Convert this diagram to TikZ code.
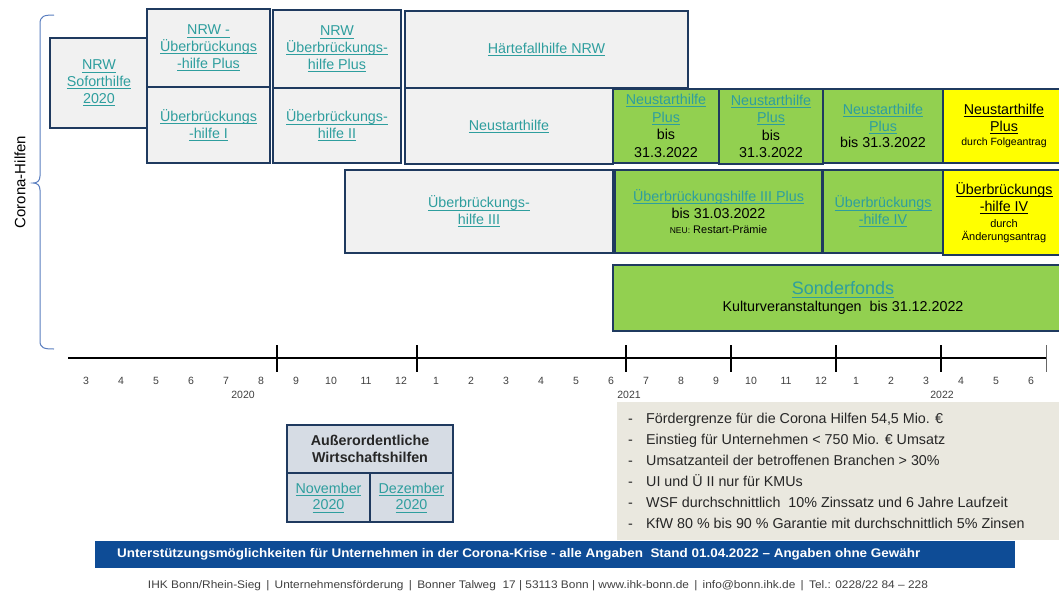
\documentclass[tikz,border=0pt]{standalone}
\usepackage{fontspec}
\setmainfont{Liberation Sans}
\definecolor{navy}{HTML}{1F3A5F}
\definecolor{boxgrey}{HTML}{F1F1F1}
\definecolor{boxgreen}{HTML}{92D050}
\definecolor{boxyellow}{HTML}{FFFF00}
\definecolor{linkc}{HTML}{2E9E9E}
\definecolor{awfill}{HTML}{D6DCE4}
\definecolor{notefill}{HTML}{EAE8DF}
\definecolor{barblue}{HTML}{0E4C96}
\definecolor{bracec}{HTML}{5A7EC0}
\definecolor{txtgrey}{HTML}{404040}
\newsavebox\myulbox
\newcommand\myul[1]{\sbox\myulbox{#1}\rlap{\rule[-0.16em]{\wd\myulbox}{0.05em}}\usebox\myulbox}
\newcommand\lnk[1]{\textcolor{linkc}{\myul{#1}}}
\newcommand\ulb[1]{\myul{#1}}
\newcommand\fs[2]{\fontsize{#1}{#2}\selectfont}
\begin{document}
\begin{tikzpicture}[x=1pt,y=-1pt,
  box/.style={draw=navy, line width=1.6pt, fill=boxgrey, align=center, inner sep=0pt, font=\fs{14.3}{16.8}},
  gbox/.style={box, fill=boxgreen},
  ybox/.style={box, fill=boxyellow},
  awbox/.style={box, fill=awfill},
  month/.style={font=\fs{10.5}{12}, text=txtgrey, inner sep=0pt},
  tick/.style={line width=1.8pt, black},
  bullet/.style={anchor=base west, font=\fs{14.3}{16}, text=black!85, inner sep=0pt}]
\useasboundingbox (0,0) rectangle (1059,592);
\fill[white] (0,0) rectangle (1059,592);
\clip (0,0) rectangle (1059,592);

% left brace and label
\draw[bracec, line width=1pt] (54,15) .. controls (44,15) and (40,16) .. (40,24)
  -- (40,176) .. controls (40,181) and (37,183) .. (33,183)
  .. controls (37,183) and (40,185) .. (40,190)
  -- (40,341) .. controls (40,348) and (44,349) .. (54,349);
\node[rotate=90, font=\fs{15}{16}, inner sep=0pt] (corona) at (20,182) {Corona-Hilfen};

% row 1
\node[box, minimum width=98pt, minimum height=90pt] (sofort) at (99,83) {\lnk{NRW}\\\lnk{Soforthilfe}\\\lnk{2020}};
\node[box, minimum width=123pt, minimum height=78pt] (nrwuebA) at (208.5,48) {\lnk{NRW -}\\\lnk{Überbrückungs}\\\lnk{-hilfe Plus}};
\node[box, minimum width=123pt, minimum height=76pt] (uebI) at (208.5,125) {\lnk{Überbrückungs}\\\lnk{-hilfe I}};
\node[box, minimum width=128pt, minimum height=78pt] (nrwuebB) at (337,49) {\lnk{NRW}\\\lnk{Überbrückungs-}\\\lnk{hilfe Plus}};
\node[box, minimum width=128pt, minimum height=75pt] (uebII) at (337,125.5) {\lnk{Überbrückungs-}\\\lnk{hilfe II}};
\node[box, minimum width=283pt, minimum height=77pt] (haerte) at (546.5,49.5) {\lnk{Härtefallhilfe NRW}};
\node[box, minimum width=208pt, minimum height=76pt] (neustart) at (509,126) {\lnk{Neustarthilfe}};
\node[gbox, minimum width=106pt, minimum height=74pt, font=\fs{14.3}{17.5}] (nspA) at (666,126) {\lnk{Neustarthilfe}\\\lnk{Plus}\\bis\\31.3.2022};
\node[gbox, minimum width=104pt, minimum height=75pt, font=\fs{14.3}{17.5}] (nspB) at (771,126.5) {\lnk{Neustarthilfe}\\\lnk{Plus}\\bis\\31.3.2022};
\node[gbox, minimum width=120pt, minimum height=74pt] (nspC) at (883,126) {\lnk{Neustarthilfe}\\\lnk{Plus}\\bis 31.3.2022};
\node[ybox, minimum width=122pt, minimum height=74pt] (nspY) at (1004,126) {\ulb{Neustarthilfe}\\\ulb{Plus}\\[-2pt]{\fs{10.5}{11}durch Folgeantrag}};

% row 2
\node[box, minimum width=268pt, minimum height=83pt] (uebIII) at (479,211.5) {\lnk{Überbrückungs-}\\\lnk{hilfe III}};
\node[gbox, minimum width=207pt, minimum height=83pt] (uebIIIp) at (718.5,211.5) {\lnk{Überbrückungshilfe III Plus}\\bis 31.03.2022\\[-2pt]{\fs{11}{11}{\fs{8.5}{11}NEU:} Restart-Prämie}};
\node[gbox, minimum width=120pt, minimum height=83pt] (uebIV) at (883,211.5) {\lnk{Überbrückungs}\\\lnk{-hilfe IV}};
\node[ybox, minimum width=122pt, minimum height=85pt] (uebIVy) at (1004,212.5) {\ulb{Überbrückungs}\\\ulb{-hilfe IV}\\[-1pt]{\fs{11}{11}durch}\\[-4pt]{\fs{11}{11}Änderungsantrag}};

% Sonderfonds
\node[gbox, minimum width=460pt, minimum height=66pt] (sonder) at (843,298) {{\fs{18}{20}\lnk{Sonderfonds}}\\Kulturveranstaltungen\ \ bis 31.12.2022};

% timeline
\coordinate (tlA) at (68,358);
\coordinate (tlB) at (1046,358);
\draw[line width=1.8pt] (tlA) -- (tlB);
\foreach \x in {277,417,626,731,836,941} \draw[tick] (\x,345) -- (\x,372);
\draw[line width=1pt, black!60] (1046,345) -- (1046,372);
\foreach \m [count=\i from 0] in {3,4,5,6,7,8,9,10,11,12,1,2,3,4,5,6,7,8,9,10,11,12,1,2,3,4,5,6}
  \node[month] (m\i) at ({86+35*\i},381) {\m};
\node[month] (yA) at (243,395) {2020};
\node[month] (yB) at (629,395) {2021};
\node[month] (yC) at (942,395) {2022};

% notes
\fill[notefill] (617,402) rectangle (1065,540);
\foreach \t [count=\i from 0] in {{Fördergrenze für die Corona Hilfen 54,5 Mio. €},
  {Einstieg für Unternehmen < 750 Mio. € Umsatz},
  {Umsatzanteil der betroffenen Branchen > 30\%},
  {UI und Ü II nur für KMUs},
  {WSF durchschnittlich\ \ 10\% Zinssatz und 6 Jahre Laufzeit},
  {KfW 80 \% bis 90 \% Garantie mit durchschnittlich 5\% Zinsen}}
  {\node[bullet] (d\i) at (628,{423+21*\i}) {-};
   \node[bullet] (n\i) at (646,{423+21*\i}) {\t};}

% Ausserordentliche Wirtschaftshilfen
\node[awbox, minimum width=166pt, minimum height=48pt, font=\bfseries\fs{14.3}{17}, text=black!85] (aw) at (370,449) {Außerordentliche\\Wirtschaftshilfen};
\node[awbox, minimum width=83pt, minimum height=49pt] (nov) at (328.5,497.5) {\lnk{November}\\\lnk{2020}};
\node[awbox, minimum width=83pt, minimum height=49pt] (dez) at (411.5,497.5) {\lnk{Dezember}\\\lnk{2020}};

% bottom bar
\fill[barblue] (95,541) rectangle (1015,568);
\node[anchor=west, text=white, font=\bfseries\fs{12.5}{13}, inner sep=0pt] (bar) at (117,554.5) {\resizebox{803pt}{\height}{Unterstützungsmöglichkeiten für Unternehmen in der Corona-Krise - alle Angaben\ \ Stand 01.04.2022 -- Angaben ohne Gewähr}};
\node[text=txtgrey, font=\fs{11}{12}, inner sep=0pt] (foot) at (538,586) {\resizebox{780pt}{\height}{IHK Bonn/Rhein-Sieg \,|\, Unternehmensförderung \,|\, Bonner Talweg\ \ 17 | 53113 Bonn | www.ihk-bonn.de \,|\, info@bonn.ihk.de \,|\, Tel.: 0228/22 84 -- 228}};
\end{tikzpicture}
\end{document}
